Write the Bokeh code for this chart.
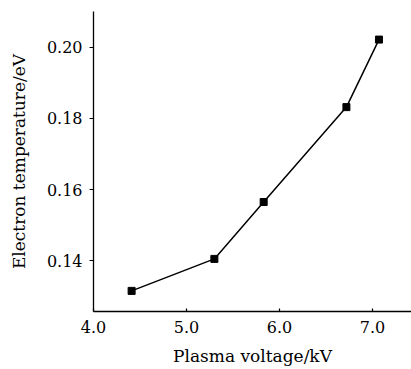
from bokeh.plotting import figure
from bokeh.models import FixedTicker, NumeralTickFormatter, Range1d
from bokeh.embed import file_html
from bokeh.resources import INLINE

voltage = [4.41, 5.30, 5.83, 6.72, 7.07]
temperature = [0.1315, 0.1405, 0.1565, 0.1832, 0.2022]
x_ticks = [4.0, 5.0, 6.0, 7.0]
y_ticks = [0.14, 0.16, 0.18, 0.20]
x_title = "Plasma voltage/kV"
y_title = "Electron temperature/eV"

FONT = "DejaVu Serif"

p = figure(width=411, height=369, output_backend="svg", toolbar_location=None,
           x_range=Range1d(4.0, 7.42), y_range=Range1d(0.1257, 0.2101),
           min_border_left=93, min_border_top=11, min_border_right=0, min_border_bottom=58)

p.line(voltage, temperature, line_color="black", line_width=1.5)
p.scatter(voltage, temperature, marker="square", size=7, fill_color="black", line_color="black")

p.xgrid.visible = False
p.ygrid.visible = False
p.outline_line_color = None

p.xaxis.ticker = FixedTicker(ticks=x_ticks)
p.yaxis.ticker = FixedTicker(ticks=y_ticks)
p.xaxis.formatter = NumeralTickFormatter(format="0.0")
p.yaxis.formatter = NumeralTickFormatter(format="0.00")

p.xaxis.axis_label = x_title
p.yaxis.axis_label = y_title

for ax in (p.xaxis, p.yaxis):
    ax.axis_line_color = "black"
    ax.axis_line_width = 1.3
    ax.major_tick_line_color = "black"
    ax.major_tick_line_width = 1.2
    ax.minor_tick_line_color = None
    ax.major_label_text_font = FONT
    ax.major_label_text_font_size = "16px"
    ax.major_label_text_color = "black"
    ax.axis_label_text_font = FONT
    ax.axis_label_text_font_size = "17px"
    ax.axis_label_text_font_style = "normal"
    ax.axis_label_text_color = "black"

p.xaxis.major_tick_in = 3
p.xaxis.major_tick_out = 0
p.xaxis.major_label_standoff = 9
p.xaxis.axis_label_standoff = 10

p.yaxis.major_tick_in = 0
p.yaxis.major_tick_out = 4
p.yaxis.major_label_standoff = 7
p.yaxis.axis_label_standoff = 15

open("out.html", "w").write(file_html(p, INLINE))
